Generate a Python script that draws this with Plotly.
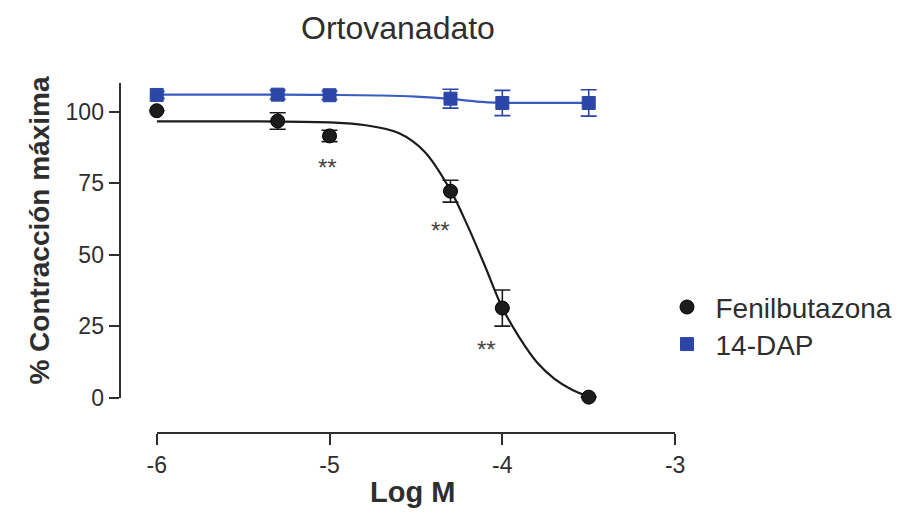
import plotly.graph_objects as go

# ---------------- data ----------------
log_m = [-6, -5.3, -5, -4.3, -4, -3.5]

fenil_mean = [100.3, 96.7, 91.5, 72.2, 31.4, 0.3]
fenil_err = [0, 2.9, 2.0, 3.8, 6.3, 0]

dap_mean = [105.8, 105.9, 105.7, 104.5, 103.0, 103.0]
dap_err = [1.2, 1.5, 1.5, 3.3, 4.4, 4.6]

fenil_fit_x = [-6.0, -5.5, -5.0, -4.8, -4.6, -4.45, -4.3, -4.2, -4.1, -4.0, -3.9, -3.8, -3.7, -3.6, -3.5]
fenil_fit_y = [96.6, 96.6, 96.2, 95.3, 92.5, 86.0, 72.5, 60.0, 46.0, 31.5, 21.0, 12.5, 6.8, 3.0, 0.5]

dap_fit_x = [-6.0, -5.3, -5.0, -4.7, -4.5, -4.3, -4.15, -4.0, -3.75, -3.5]
dap_fit_y = [105.9, 105.9, 105.8, 105.6, 105.2, 104.4, 103.5, 103.1, 103.0, 103.0]

star_x = [-5.01, -4.36, -4.09]
star_y = [82.5, 60.5, 19.0]
star_text = ["**", "**", "**"]

x_ticks = [-6, -5, -4, -3]
y_ticks = [0, 25, 50, 75, 100]

# ---------------- styling ----------------
W, H = 915, 531
FONT = "Arial, Liberation Sans, Helvetica, sans-serif"
INK = "#2e2e2e"
BLACK = "#1c1c1c"
BLUE = "#2b46a6"
BLUE_LINE = "#3a5bbf"

def px_x(p):
    return p / W

def px_y(p):
    return 1 - p / H

fig = go.Figure()

# fitted curves
fig.add_trace(go.Scatter(x=fenil_fit_x, y=fenil_fit_y, mode="lines",
                         line=dict(color=BLACK, width=2.2, shape="spline", smoothing=1.0),
                         showlegend=False, hoverinfo="skip", cliponaxis=False))
fig.add_trace(go.Scatter(x=dap_fit_x, y=dap_fit_y, mode="lines",
                         line=dict(color=BLUE_LINE, width=2.2, shape="spline", smoothing=1.0),
                         showlegend=False, hoverinfo="skip", cliponaxis=False))

# data points
fig.add_trace(go.Scatter(x=log_m, y=fenil_mean, mode="markers", name="Fenilbutazona",
                         marker=dict(symbol="circle", size=14, color=BLACK,
                                     line=dict(color="#000000", width=1)),
                         error_y=dict(type="data", array=fenil_err, visible=True,
                                      color=BLACK, thickness=1.6, width=8),
                         cliponaxis=False, legend="legend"))
fig.add_trace(go.Scatter(x=log_m, y=dap_mean, mode="markers", name="14-DAP",
                         marker=dict(symbol="square", size=13, color=BLUE,
                                     line=dict(color=BLUE, width=1)),
                         error_y=dict(type="data", array=dap_err, visible=True,
                                      color=BLUE, thickness=1.6, width=8),
                         cliponaxis=False, legend="legend2"))

# significance stars
for sx, sy, st in zip(star_x, star_y, star_text):
    fig.add_annotation(x=sx, y=sy, text=st, showarrow=False, yshift=-6,
                       xanchor="center", yanchor="middle",
                       font=dict(family=FONT, size=24, color="#444444"),
                       xref="x", yref="y")

# titles
fig.add_annotation(x=px_x(397), y=px_y(29), xref="paper", yref="paper",
                   xanchor="center", yanchor="middle",
                   text="Ortovanadato", showarrow=False,
                   font=dict(family=FONT, size=32, color=INK))
fig.add_annotation(x=px_x(30), y=px_y(236), xref="paper", yref="paper",
                   xanchor="center", yanchor="middle",
                   text="<b>% Contracción máxima</b>", textangle=-90, showarrow=False,
                   font=dict(family=FONT, size=28, color=INK))
fig.add_annotation(x=px_x(412), y=px_y(504), xref="paper", yref="paper",
                   xanchor="center", yanchor="middle",
                   text="<b>Log M</b>", showarrow=False,
                   font=dict(family=FONT, size=29, color=INK))

fig.update_layout(
    width=W, height=H,
    margin=dict(l=0, r=0, t=0, b=0),
    paper_bgcolor="white", plot_bgcolor="white",
    font=dict(family=FONT, color=INK),
    xaxis=dict(domain=[px_x(150), px_x(680)], range=[-6, -3],
               anchor="free", position=px_y(444),
               showgrid=False, zeroline=False, showline=True, linecolor=INK, linewidth=2,
               ticks="outside", ticklen=11, tickwidth=2, tickcolor=INK,
               tickvals=x_ticks, ticktext=[str(v) for v in x_ticks],
               tickfont=dict(family=FONT, size=23, color=INK)),
    yaxis=dict(domain=[px_y(408), px_y(85)], range=[0, 110],
               anchor="free", position=px_x(112),
               showgrid=False, zeroline=False, showline=True, linecolor=INK, linewidth=2,
               ticks="outside", ticklen=10, tickwidth=2, tickcolor=INK,
               tickvals=y_ticks, ticktext=[str(v) for v in y_ticks],
               tickfont=dict(family=FONT, size=23, color=INK)),
    legend=dict(x=px_x(663), y=px_y(315), xanchor="left", yanchor="middle",
                itemwidth=47,
                font=dict(family=FONT, size=28, color=INK), bgcolor="rgba(0,0,0,0)"),
    legend2=dict(x=px_x(663), y=px_y(353), xanchor="left", yanchor="middle",
                 itemwidth=47,
                 font=dict(family=FONT, size=28, color=INK), bgcolor="rgba(0,0,0,0)"),
)

fig.write_html("out.html")
